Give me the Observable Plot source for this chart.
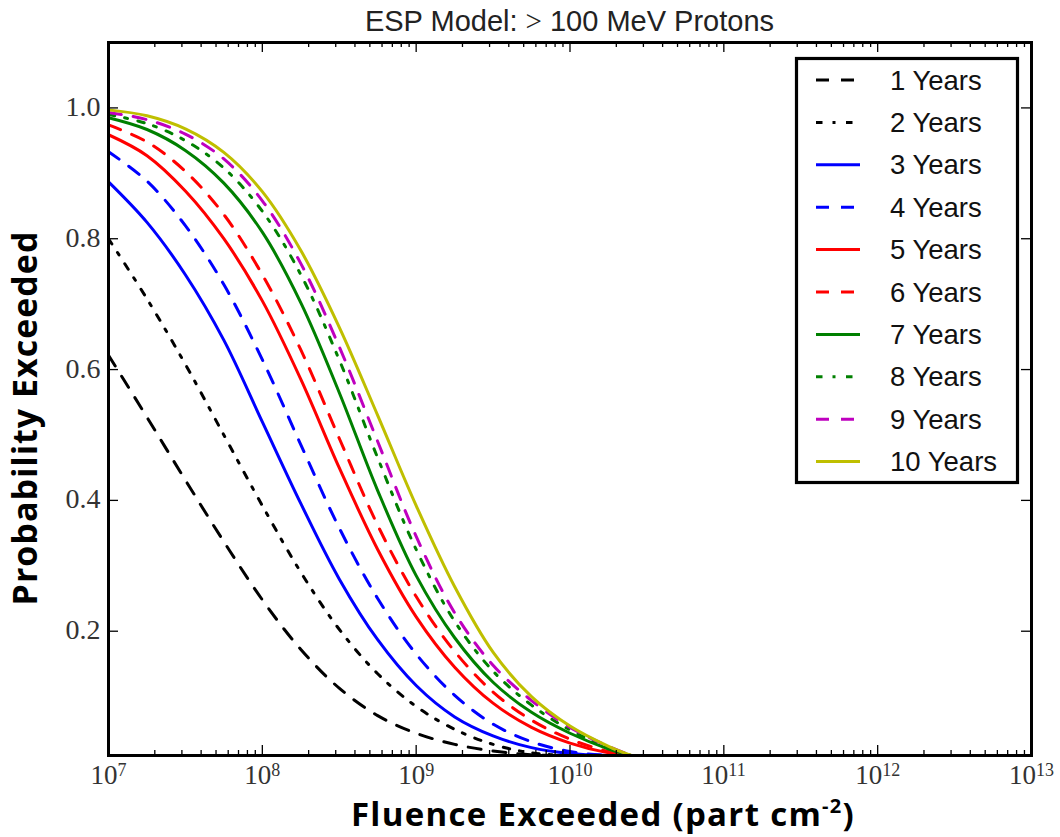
<!DOCTYPE html>
<html>
<head>
<meta charset="utf-8">
<script src="https://cdn.jsdelivr.net/npm/d3@7"></script>
<script src="https://cdn.jsdelivr.net/npm/@observablehq/plot@0.6"></script>
<style>
  html, body { margin: 0; padding: 0; background: #fff; }
  #wrap { position: relative; width: 1060px; height: 837px; overflow: hidden; background: #fff; }
  #wrap svg { position: absolute; left: 0; top: 0; }
</style>
</head>
<body>
<div id="wrap"></div>
<script>
// ---------------- data ----------------
const fluence = [1e7, 1.78e7, 3.16e7, 5.62e7, 1e8, 1.78e8, 3.16e8, 5.62e8, 1e9, 1.78e9, 3.16e9, 5.62e9, 1e10, 1.78e10, 2.5e10];

const seriesNames = ["1 Years", "2 Years", "3 Years", "4 Years", "5 Years", "6 Years", "7 Years", "8 Years", "9 Years", "10 Years"];

const prob1  = [0.622, 0.527, 0.431, 0.337, 0.248, 0.172, 0.113, 0.071, 0.044, 0.027, 0.017, 0.011, 0.010, 0.010, 0.010];
const prob2  = [0.800, 0.708, 0.608, 0.500, 0.392, 0.290, 0.203, 0.135, 0.085, 0.050, 0.027, 0.014, 0.010, 0.010, 0.010];
const prob3  = [0.887, 0.825, 0.745, 0.645, 0.520, 0.395, 0.280, 0.187, 0.117, 0.069, 0.040, 0.022, 0.013, 0.010, 0.010];
const prob4  = [0.933, 0.888, 0.820, 0.730, 0.615, 0.485, 0.358, 0.250, 0.165, 0.102, 0.058, 0.031, 0.016, 0.010, 0.010];
const prob5  = [0.959, 0.927, 0.873, 0.800, 0.705, 0.585, 0.450, 0.325, 0.222, 0.145, 0.090, 0.053, 0.029, 0.014, 0.010];
const prob6  = [0.974, 0.948, 0.903, 0.837, 0.745, 0.630, 0.495, 0.362, 0.253, 0.169, 0.107, 0.064, 0.035, 0.016, 0.010];
const prob7  = [0.985, 0.967, 0.935, 0.885, 0.810, 0.702, 0.565, 0.415, 0.285, 0.190, 0.122, 0.076, 0.044, 0.020, 0.010];
const prob8  = [0.990, 0.976, 0.950, 0.908, 0.842, 0.745, 0.615, 0.465, 0.325, 0.215, 0.139, 0.087, 0.049, 0.022, 0.010];
const prob9  = [0.993, 0.982, 0.960, 0.922, 0.858, 0.762, 0.635, 0.490, 0.345, 0.228, 0.148, 0.094, 0.053, 0.024, 0.010];
const prob10 = [0.997, 0.988, 0.968, 0.932, 0.872, 0.782, 0.665, 0.530, 0.392, 0.268, 0.168, 0.100, 0.055, 0.024, 0.010];

const xTickValues = [1e7, 1e8, 1e9, 1e10, 1e11, 1e12, 1e13];
const xTickBase = ["10", "10", "10", "10", "10", "10", "10"];
const xTickExponents = ["7", "8", "9", "10", "11", "12", "13"];
const yTickValues = [0.2, 0.4, 0.6, 0.8, 1.0];
const yTickLabels = ["0.2", "0.4", "0.6", "0.8", "1.0"];

const titleText = ["ESP Model: ", ">", " 100 MeV Protons"];
const xLabelText = ["Fluence Exceeded (part cm", "-2", ")"];
const yLabelText = "Probability Exceeded";

// ---------------- styles ----------------
const seriesValues = [prob1, prob2, prob3, prob4, prob5, prob6, prob7, prob8, prob9, prob10];
const seriesColors = ["#000000", "#000000", "#0000ff", "#0000ff", "#ff0000", "#ff0000", "#008000", "#008000", "#bf00bf", "#bfbf00"];
const DASH = "13,12", DASHDOT = "6.5,10,3,10.5";
const seriesDash = [DASH, DASHDOT, null, DASH, null, DASH, null, DASHDOT, DASH, null];

const W = 1060, H = 837, mL = 108, mR = 29, mT = 42, mB = 82;
const pw = W - mL - mR, ph = H - mT - mB;
const xMinor = xTickValues.slice(0, -1).flatMap(d => [2, 3, 4, 5, 6, 7, 8, 9].map(k => k * d));

const marks = [];
seriesValues.forEach((vals, i) => {
  const rows = fluence.map((f, j) => ({f, p: vals[j]}));
  const opts = {x: "f", y: "p", stroke: seriesColors[i], strokeWidth: 3, curve: "catmull-rom", clip: true};
  if (seriesDash[i]) opts.strokeDasharray = seriesDash[i];
  marks.push(Plot.line(rows, opts));
});

const tickStroke = {stroke: "#000", strokeWidth: 1.3};
marks.push(
  Plot.ruleX(xTickValues, {x: d => d, insetTop: ph - 10, ...tickStroke}),
  Plot.ruleX(xTickValues, {x: d => d, insetBottom: ph - 10, ...tickStroke}),
  Plot.ruleX(xMinor, {x: d => d, insetTop: ph - 5, ...tickStroke}),
  Plot.ruleX(xMinor, {x: d => d, insetBottom: ph - 5, ...tickStroke}),
  Plot.ruleY(yTickValues, {y: d => d, insetRight: pw - 10, ...tickStroke}),
  Plot.ruleY(yTickValues, {y: d => d, insetLeft: pw - 10, ...tickStroke}),
  Plot.frame({stroke: "#000", strokeWidth: 3})
);

const tickFont = {fontFamily: "'Liberation Serif', 'Times New Roman', serif", fill: "#333"};
const single = xTickValues.map((d, i) => i).filter(i => xTickExponents[i].length === 1);
const double = xTickValues.map((d, i) => i).filter(i => xTickExponents[i].length === 2);
marks.push(
  Plot.text(single, {x: i => xTickValues[i], text: i => xTickBase[i], frameAnchor: "bottom", dy: 28, dx: -4.5, textAnchor: "middle", fontSize: 27, ...tickFont}),
  Plot.text(single, {x: i => xTickValues[i], text: i => xTickExponents[i], frameAnchor: "bottom", dy: 20, dx: 9, textAnchor: "start", fontSize: 18, ...tickFont}),
  Plot.text(double, {x: i => xTickValues[i], text: i => xTickBase[i], frameAnchor: "bottom", dy: 28, dx: -9, textAnchor: "middle", fontSize: 27, ...tickFont}),
  Plot.text(double, {x: i => xTickValues[i], text: i => xTickExponents[i], frameAnchor: "bottom", dy: 20, dx: 4.5, textAnchor: "start", fontSize: 18, ...tickFont}),
  Plot.text(yTickValues, {y: d => d, text: (d, i) => yTickLabels[i], frameAnchor: "left", dx: -8, dy: -1, textAnchor: "end", fontSize: 28, ...tickFont})
);

const chart = Plot.plot({
  width: W, height: H,
  marginLeft: mL, marginRight: mR, marginTop: mT, marginBottom: mB,
  x: {type: "log", domain: [1e7, 1e13], axis: null},
  y: {domain: [0.01, 1.1], axis: null},
  style: {background: "white", overflow: "visible"},
  marks
});
const wrap = document.getElementById("wrap");
wrap.appendChild(chart);

// ---------------- overlay: title, axis labels, legend ----------------
const ov = d3.select(wrap).append("svg").attr("width", W).attr("height", H);
const sans = "'Liberation Sans', Arial, Helvetica, sans-serif";
const labelFont = "'Open Sans', Lato, sans-serif";

const t = ov.append("text").attr("x", mL + pw / 2).attr("y", 31).attr("text-anchor", "middle")
  .attr("font-family", sans).attr("font-size", 29).attr("fill", "#222");
t.append("tspan").text(titleText[0]);
t.append("tspan").attr("font-family", "'Liberation Serif', serif").text(titleText[1]);
t.append("tspan").text(titleText[2]);

const xl = ov.append("text").attr("x", 603).attr("y", 826).attr("text-anchor", "middle")
  .attr("font-family", labelFont).attr("font-weight", 700).attr("font-size", 33)
  .attr("letter-spacing", 1.3).attr("fill", "#000");
xl.append("tspan").text(xLabelText[0]);
xl.append("tspan").attr("font-size", 20).attr("dy", -13).text(xLabelText[1]);
xl.append("tspan").attr("dy", 13).text(xLabelText[2]);

ov.append("text").attr("transform", "translate(37,418) rotate(-90)").attr("text-anchor", "middle")
  .attr("font-family", labelFont).attr("font-weight", 700).attr("font-size", 34)
  .attr("letter-spacing", 1).attr("fill", "#000")
  .text(yLabelText);

const lg = ov.append("g");
lg.append("rect").attr("x", 796.5).attr("y", 58.5).attr("width", 221).attr("height", 424)
  .attr("fill", "#fff").attr("stroke", "#000").attr("stroke-width", 3.2);
seriesNames.forEach((name, i) => {
  const cy = 80 + i * 42.4;
  const ln = lg.append("line").attr("x1", 816).attr("x2", 860).attr("y1", cy).attr("y2", cy)
    .attr("stroke", seriesColors[i]).attr("stroke-width", 3);
  if (seriesDash[i]) ln.attr("stroke-dasharray", seriesDash[i]);
  lg.append("text").attr("x", 890).attr("y", cy + 9.5).attr("font-family", sans).attr("font-size", 27.5)
    .attr("fill", "#111").text(name);
});
</script>
</body>
</html>
